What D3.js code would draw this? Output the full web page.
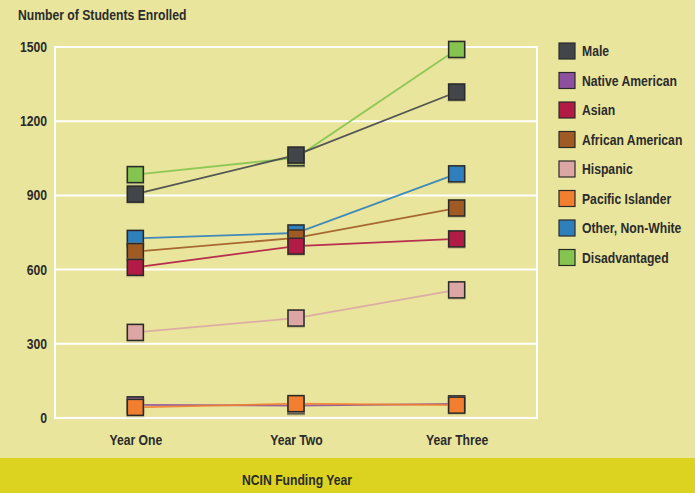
<!DOCTYPE html>
<html>
<head>
<meta charset="utf-8">
<script src="https://d3js.org/d3.v7.min.js"></script>
<style>
  body { margin: 0; background: #e9e59d; }
  svg { display: block; }
  text { font-family: "Liberation Sans Narrow", "Arial Narrow", "Liberation Sans", sans-serif; fill: #2b2b2b; }
</style>
</head>
<body>
<svg width="695" height="493"></svg>
<script>
// data
var years = ["Year One", "Year Two", "Year Three"];
var yTicks = [0, 300, 600, 900, 1200, 1500];
var legendOrder = ["Male", "Native American", "Asian", "African American", "Hispanic", "Pacific Islander", "Other, Non-White", "Disadvantaged"];
var colors = ["#42464a", "#8c509e", "#b11b45", "#a05b25", "#dca6a5", "#f27f30", "#2e7fbb", "#85c44f"];

var male = [905, 1063, 1318];
var nativeAmerican = [53, 50, 57];
var asian = [609, 695, 724];
var africanAmerican = [673, 728, 849];
var hispanic = [346, 404, 518];
var pacificIslander = [43, 58, 52];
var otherNonWhite = [726, 748, 987];
var disadvantaged = [984, 1052, 1490];

var seriesValues = {
  "Male": male,
  "Native American": nativeAmerican,
  "Asian": asian,
  "African American": africanAmerican,
  "Hispanic": hispanic,
  "Pacific Islander": pacificIslander,
  "Other, Non-White": otherNonWhite,
  "Disadvantaged": disadvantaged
};
// drawing order (bottom first)
var drawOrder = ["Disadvantaged", "Other, Non-White", "Native American", "Pacific Islander", "Hispanic", "African American", "Asian", "Male"];

var svg = d3.select("svg");
var plotL = 55, plotR = 537, plotT = 47, plotB = 418;
var fontSize = "14px";
var squeeze = "scale(0.87,1)";   // fake a condensed face

var color = d3.scaleOrdinal().domain(legendOrder).range(colors);
var x = d3.scalePoint().domain(years).range([plotL, plotR]).padding(0.5);
var y = d3.scaleLinear().domain([0, 1500]).range([plotB, plotT]);

function label(px, py, txt, anchor) {
  svg.append("g").attr("transform", "translate(" + px + "," + py + ")")
    .append("text").attr("transform", squeeze)
    .attr("text-anchor", anchor || "start")
    .attr("font-size", fontSize).attr("font-weight", "bold").text(txt);
}

// bottom band
svg.append("rect").attr("x", 0).attr("y", 458).attr("width", 695).attr("height", 35).attr("fill", "#dbd31f");
label(297, 485, "NCIN Funding Year", "middle");

// title
label(18, 20, "Number of Students Enrolled");

// gridlines
svg.append("g").selectAll("line").data(yTicks).enter().append("line")
  .attr("x1", plotL).attr("x2", plotR)
  .attr("y1", function(d) { return y(d); }).attr("y2", function(d) { return y(d); })
  .attr("stroke", "#fff").attr("stroke-width", 2);
svg.append("line").attr("x1", plotL).attr("x2", plotL).attr("y1", plotT - 1).attr("y2", plotB + 1)
  .attr("stroke", "#fff").attr("stroke-width", 2);
svg.append("line").attr("x1", plotR).attr("x2", plotR).attr("y1", plotT - 1).attr("y2", plotB + 1)
  .attr("stroke", "#fff").attr("stroke-width", 2);

// y axis
var yAxis = svg.append("g").attr("transform", "translate(" + (plotL - 8) + ",0)")
  .call(d3.axisLeft(y).tickValues(yTicks).tickFormat(d3.format("d")).tickSize(0).tickPadding(0));
yAxis.select(".domain").remove();
yAxis.selectAll("text").attr("font-size", fontSize).attr("font-weight", "bold").attr("transform", squeeze)
  .style("font-family", "\"Liberation Sans Narrow\", \"Arial Narrow\", \"Liberation Sans\", sans-serif").attr("fill", "#2b2b2b");

// x axis
var xAxis = svg.append("g").attr("transform", "translate(0," + plotB + ")")
  .call(d3.axisBottom(x).tickSize(0).tickPadding(17));
xAxis.select(".domain").remove();
xAxis.selectAll("text").attr("font-size", fontSize).attr("font-weight", "bold").attr("transform", squeeze)
  .style("font-family", "\"Liberation Sans Narrow\", \"Arial Narrow\", \"Liberation Sans\", sans-serif").attr("fill", "#2b2b2b");

var line = d3.line()
  .x(function(d, i) { return x(years[i]); })
  .y(function(d) { return y(d); });

var sq = 16;
var groups = svg.append("g").selectAll("g.series").data(drawOrder).enter().append("g").attr("class", "series");

groups.append("path")
  .attr("d", function(k) { return line(seriesValues[k]); })
  .attr("fill", "none")
  .attr("stroke", function(k) { return color(k); })
  .attr("stroke-width", 1.8)
  .attr("opacity", 0.9);

groups.each(function(k) {
  var g = d3.select(this);
  var vals = seriesValues[k];
  g.selectAll("rect.shadow").data(vals).enter().append("rect")
    .attr("class", "shadow")
    .attr("x", function(d, i) { return x(years[i]) - sq / 2 - 1; })
    .attr("y", function(d) { return y(d) - sq / 2 - 1; })
    .attr("width", sq + 2).attr("height", sq + 3)
    .attr("fill", "#b5b07a").attr("opacity", 0.6);
  g.selectAll("rect.pt").data(vals).enter().append("rect")
    .attr("class", "pt")
    .attr("x", function(d, i) { return x(years[i]) - sq / 2; })
    .attr("y", function(d) { return y(d) - sq / 2; })
    .attr("width", sq).attr("height", sq)
    .attr("fill", color(k))
    .attr("stroke", "#2a2a2a").attr("stroke-width", 1.5);
});

// legend
var legend = svg.append("g").selectAll("g").data(legendOrder).enter().append("g")
  .attr("transform", function(d, i) { return "translate(559," + (51 + i * 29.5) + ")"; });
legend.append("rect").attr("x", 0).attr("y", -8).attr("width", 16).attr("height", 16)
  .attr("fill", function(d) { return color(d); })
  .attr("stroke", "#2a2a2a").attr("stroke-width", 1.2);
legend.append("g").attr("transform", "translate(23,5)")
  .append("text").attr("transform", squeeze)
  .attr("font-size", fontSize).attr("font-weight", "bold")
  .text(function(d) { return d; });
</script>
</body>
</html>
